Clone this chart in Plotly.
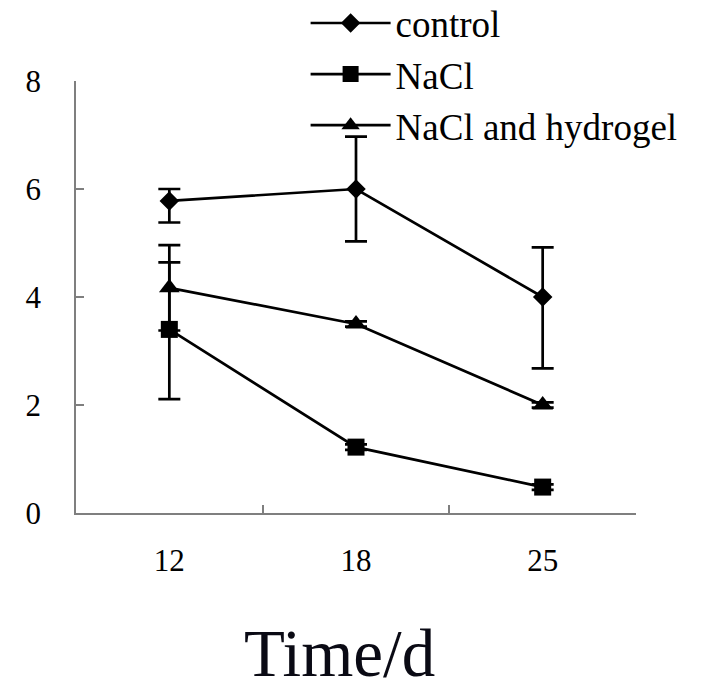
import plotly.graph_objects as go

# ---- data ----
days = ["12", "18", "25"]

control = [5.78, 6.00, 4.00]
control_err_plus = [0.22, 0.97, 0.92]
control_err_minus = [0.40, 0.97, 1.32]

nacl = [3.40, 1.22, 0.48]
nacl_err_plus = [1.24, 0.05, 0.05]
nacl_err_minus = [1.29, 0.05, 0.05]

hydrogel = [4.17, 3.50, 2.00]
hydrogel_err_plus = [0.79, 0.05, 0.05]
hydrogel_err_minus = [0.79, 0.05, 0.05]

y_ticks = [0, 2, 4, 6, 8]

series = [
    ("control", control, control_err_plus, control_err_minus, "diamond", 15),
    ("NaCl", nacl, nacl_err_plus, nacl_err_minus, "square", 17),
    ("NaCl and hydrogel", hydrogel, hydrogel_err_plus, hydrogel_err_minus, "triangle-up", 18),
]

SERIF = "Times New Roman"

fig = go.Figure()
for name, vals, ep, em, sym, sz in series:
    fig.add_trace(go.Scatter(
        x=days, y=vals, name=name, mode="lines+markers",
        line=dict(color="black", width=2.7),
        marker=dict(symbol=sym, size=sz, color="black"),
        error_y=dict(type="data", symmetric=False, array=ep, arrayminus=em,
                     color="black", thickness=2.7, width=11),
    ))

axis_common = dict(
    showline=True, linecolor="#7f7f7f", linewidth=1.5,
    ticks="inside", tickcolor="#7f7f7f", ticklen=8, tickwidth=1.5,
    showgrid=False, zeroline=False,
    tickfont=dict(size=31, color="black"),
)

fig.update_xaxes(**axis_common, type="category", tickson="boundaries",
                 range=[-0.5, 2.5], ticklabelstandoff=19)
fig.update_yaxes(**axis_common, range=[0, 8], tickvals=y_ticks,
                 ticklabelstandoff=27)

fig.update_layout(
    width=711, height=691,
    font=dict(family=SERIF, color="black"),
    margin=dict(l=68, r=83, t=73, b=186, autoexpand=False),
    plot_bgcolor="white", paper_bgcolor="white",
    showlegend=True,
    legend=dict(x=0.41, y=1.205, xanchor="left", yanchor="top",
                font=dict(size=37, color="black"),
                bgcolor="rgba(0,0,0,0)", itemwidth=80, tracegroupgap=0),
    annotations=[dict(text="Time/d", xref="paper", yref="paper",
                      x=0.471, y=-0.324, xanchor="center", yanchor="middle",
                      showarrow=False,
                      font=dict(size=67, color="#0a0a14"))],
)

fig.write_html("out.html")
